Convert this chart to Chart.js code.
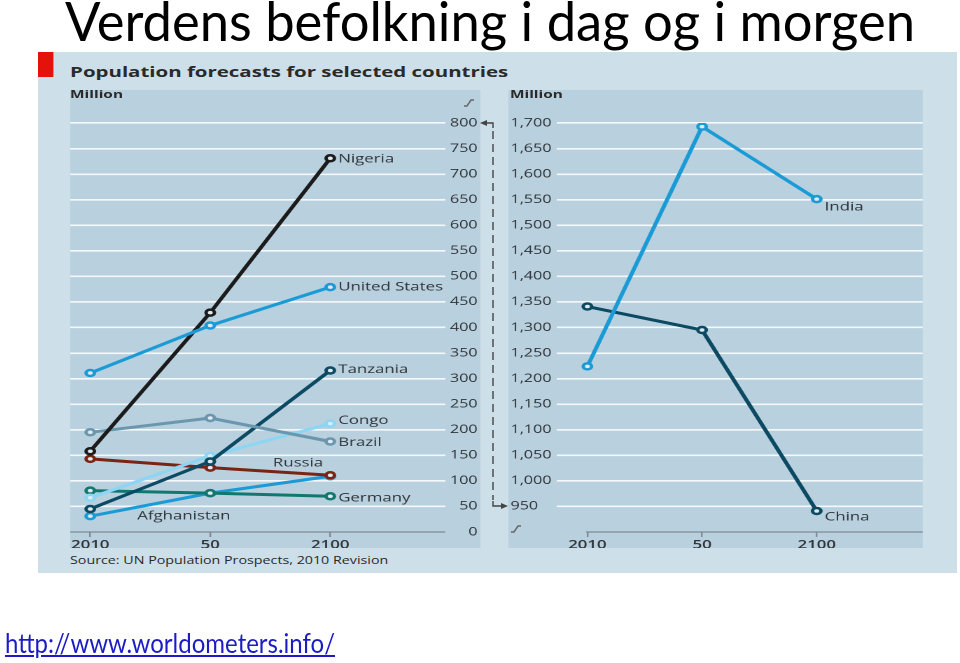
<!DOCTYPE html>
<html>
<head>
<meta charset="utf-8">
<title>Verdens befolkning i dag og i morgen</title>
<script src="https://cdn.jsdelivr.net/npm/chart.js@4.4.1/dist/chart.umd.min.js"></script>
<style>
    html, body { margin: 0; padding: 0; background: #fff; }
    body { width: 960px; height: 663px; position: relative; overflow: hidden; font-family: 'Open Sans', sans-serif; }
    #title { position: absolute; left: 65px; top: -6px; font-family: Lato, sans-serif; font-size: 54px; line-height: 1; color: #000; white-space: nowrap; transform-origin: 0 0; }
    #url { position: absolute; left: 5px; top: 630px; font-family: Lato, sans-serif; font-size: 26px; line-height: 1; color: #1c1cc4; text-decoration: underline; white-space: nowrap; transform-origin: 0 0; }
    /* the original graphic is stretched sideways, so the panel is drawn narrow and scaled */
    #panel { position: absolute; left: 38px; top: 52px; width: 656.4px; height: 521px; background: #cddfe9; transform: scaleX(1.4); transform-origin: 0 0; }
    .mark { position: absolute; left: 0; top: 0; width: 10.7px; height: 25px; background: #e3120b; }
    .head { position: absolute; left: 22.9px; top: 10px; font-size: 14.6px; font-weight: bold; color: #2a2a2a; white-space: nowrap; line-height: 18px; }
    .unit { position: absolute; top: 35px; font-size: 11px; font-weight: bold; color: #2a2a2a; line-height: 14px; z-index: 2; }
    .source { position: absolute; left: 22.9px; top: 501px; font-size: 10.2px; color: #2a2a2a; white-space: nowrap; line-height: 14px; }
    .plot { position: absolute; top: 38px; height: 458px; background: #b9d0de; }
    .plot canvas { position: absolute; left: 0; top: 0; }
    #marks { position: absolute; left: 0; top: 0; width: 960px; height: 663px; pointer-events: none; }
</style>
</head>
<body>
<div id="title">Verdens befolkning i dag og i morgen</div>

<div id="panel">
    <div class="mark"></div>
    <div class="head">Population forecasts for selected countries</div>
    <div class="plot" style="left: 22.9px; width: 293px;"><canvas id="leftChart" width="293" height="458"></canvas></div>
    <div class="plot" style="left: 335.7px; width: 296px;"><canvas id="rightChart" width="296" height="458"></canvas></div>
    <div class="unit" style="left: 22.9px;">Million</div>
    <div class="unit" style="left: 337.1px;">Million</div>
    <div class="source">Source: UN Population Prospects, 2010 Revision</div>
</div>

<svg id="marks" viewBox="0 0 960 663">
    <g stroke="#444" stroke-width="1.4" fill="none">
        <polyline points="486,123 493,123 493,128"/>
        <line x1="493" y1="131" x2="493" y2="500" stroke-dasharray="8,5"/>
        <polyline points="493,501 493,506 501,506"/>
        <polyline points="464,106 467,106 471,100 474,100" stroke="#666"/>
        <polyline points="511,532 514,532 518,526 521,526" stroke="#666"/>
    </g>
    <polygon points="480,123 487,120 487,126" fill="#444"/>
    <polygon points="508,506 501,503 501,509" fill="#444"/>
</svg>

<div id="url">http://www.worldometers.info/</div>

<script>
const years = ['2010', '50', '2100'];
const leftTicks = [0, 50, 100, 150, 200, 250, 300, 350, 400, 450, 500, 550, 600, 650, 700, 750, 800];
const rightTicks = [950, 1000, 1050, 1100, 1150, 1200, 1250, 1300, 1350, 1400, 1450, 1500, 1550, 1600, 1650, 1700];

const nigeria = [158, 429, 731];
const unitedStates = [311, 404, 479];
const tanzania = [45, 138, 316];
const congo = [67, 149, 212];
const brazil = [195, 223, 177];
const russia = [143, 126, 111];
const germany = [81, 76, 70];
const afghanistan = [31, 76, 109];
const india = [1224, 1693, 1551];
const china = [1341, 1295, 941];

const colors = {
    'Nigeria': '#1b1b1b',
    'United States': '#1b9bd6',
    'Tanzania': '#0c4a63',
    'Congo': '#8ad6f4',
    'Brazil': '#6a97ad',
    'Russia': '#7a2414',
    'Germany': '#12786f',
    'Afghanistan': '#1b9bd6',
    'India': '#1b9bd6',
    'China': '#0c4a63'
};

// where each country name sits, relative to one of its points
const labelPlaces = {
    'Nigeria': { at: 2, dx: 5.7, dy: 1 },
    'United States': { at: 2, dx: 5.7, dy: 0 },
    'Tanzania': { at: 2, dx: 5.7, dy: -1 },
    'Congo': { at: 2, dx: 5.7, dy: -3 },
    'Brazil': { at: 2, dx: 5.7, dy: 1 },
    'Russia': { at: 2, dx: -23, dy: -12, align: 'center' },
    'Germany': { at: 2, dx: 5.7, dy: 2 },
    'Afghanistan': { at: 0, dx: 33.6, dy: 0 },
    'India': { at: 2, dx: 5.7, dy: 8 },
    'China': { at: 2, dx: 5.7, dy: 6 }
};

Chart.defaults.font.family = '"Open Sans", sans-serif';
Chart.defaults.color = '#2f3438';

function fitWidth(id, targetWidth) {
    const el = document.getElementById(id);
    const w = el.getBoundingClientRect().width;
    el.style.transform = 'scaleX(' + (targetWidth / w) + ')';
}

function series(name, values) {
    return {
        label: name,
        data: values.map(function(v, i) { return { x: i, y: v }; }),
        borderColor: colors[name],
        borderWidth: 3,
        pointRadius: 3,
        pointBorderWidth: 2.5,
        pointBackgroundColor: '#dfeaf0',
        pointBorderColor: colors[name],
        tension: 0
    };
}

const endLabels = {
    id: 'endLabels',
    afterDatasetsDraw(chart) {
        const ctx = chart.ctx;
        ctx.save();
        ctx.font = '12px "Open Sans"';
        ctx.fillStyle = '#2f3438';
        ctx.textBaseline = 'middle';
        chart.data.datasets.forEach(function(ds, i) {
            const place = labelPlaces[ds.label];
            const pt = chart.getDatasetMeta(i).data[place.at];
            ctx.textAlign = place.align || 'left';
            ctx.fillText(ds.label, pt.x + place.dx, pt.y + place.dy);
        });
        ctx.restore();
    }
};

const baseline = {
    id: 'baseline',
    beforeDatasetsDraw(chart, args, opts) {
        const ctx = chart.ctx;
        const area = chart.chartArea;
        const start = opts.fromTick ? chart.scales.x.getPixelForValue(0) - 1 : area.left;
        ctx.save();
        ctx.strokeStyle = '#7d8b93';
        ctx.lineWidth = 1.3;
        ctx.beginPath();
        ctx.moveTo(start, area.bottom);
        ctx.lineTo(area.right, area.bottom);
        ctx.stroke();
        ctx.restore();
    }
};

function makeOptions(cfg) {
    return {
        responsive: false,
        animation: false,
        devicePixelRatio: 2,
        events: [],
        layout: { padding: cfg.padding, autoPadding: false },
        plugins: {
            legend: { display: false },
            tooltip: { enabled: false },
            baseline: { fromTick: cfg.fromTick }
        },
        scales: {
            x: {
                type: 'linear',
                min: cfg.xMin,
                max: cfg.xMax,
                afterBuildTicks: function(scale) {
                    scale.ticks = years.map(function(y, i) { return { value: i }; });
                },
                afterFit: function(scale) {
                    scale.height = 16;
                    scale.paddingLeft = 0;
                    scale.paddingRight = 0;
                },
                border: { display: false },
                grid: { drawOnChartArea: false, drawTicks: true, tickLength: 5, color: '#7d8b93', lineWidth: 1.2 },
                ticks: {
                    padding: 1,
                    maxRotation: 0,
                    font: { size: 12, weight: '600' },
                    callback: function(v) { return years[v]; }
                }
            },
            y: {
                position: cfg.yPosition,
                min: cfg.yMin,
                max: cfg.yMax,
                afterBuildTicks: function(scale) {
                    scale.ticks = cfg.ticks.map(function(v) { return { value: v }; });
                },
                afterFit: function(scale) { scale.width = cfg.yWidth; },
                border: { display: false },
                grid: {
                    drawTicks: false,
                    lineWidth: 1.6,
                    color: function(c) { return c.tick && c.tick.value === cfg.yMin ? 'rgba(0,0,0,0)' : '#f4f8fa'; }
                },
                ticks: {
                    padding: 0,
                    crossAlign: 'far',
                    font: { size: 11.5 },
                    callback: function(v) { return v.toLocaleString('en-US'); }
                }
            }
        }
    };
}

new Chart(document.getElementById('leftChart'), {
    type: 'line',
    data: {
        datasets: [
            series('United States', unitedStates),
            series('Nigeria', nigeria),
            series('Brazil', brazil),
            series('Tanzania', tanzania),
            series('Congo', congo),
            series('Russia', russia),
            series('Germany', germany),
            series('Afghanistan', afghanistan)
        ]
    },
    options: makeOptions({
        padding: { top: 33, right: 2, bottom: 0, left: 0 },
        fromTick: false,
        xMin: -0.167, xMax: 2.957,
        yPosition: 'right', yMin: 0, yMax: 800, ticks: leftTicks, yWidth: 23.2
    }),
    plugins: [baseline, endLabels]
});

new Chart(document.getElementById('rightChart'), {
    type: 'line',
    data: {
        datasets: [
            series('India', india),
            series('China', china)
        ]
    },
    options: makeOptions({
        padding: { top: 33, right: 0, bottom: 0, left: 1.5 },
        fromTick: true,
        xMin: -0.27, xMax: 2.925,
        yPosition: 'left', yMin: 900, yMax: 1700, ticks: rightTicks, yWidth: 32.8
    }),
    plugins: [baseline, endLabels]
});

fitWidth('title', 850);
fitWidth('url', 330);
</script>
</body>
</html>
